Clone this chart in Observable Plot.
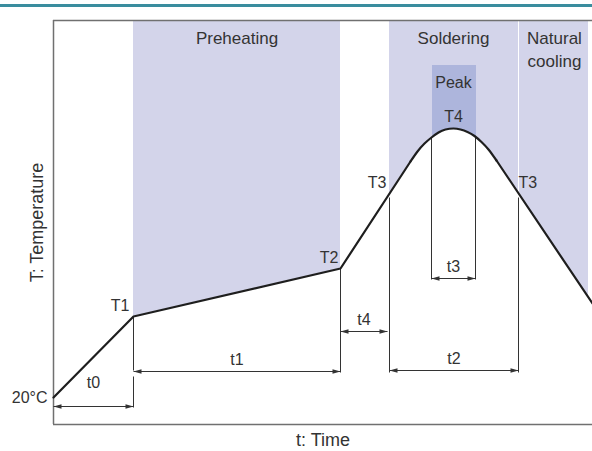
<!DOCTYPE html>
<html>
<head>
<meta charset="utf-8">
<script src="https://cdn.jsdelivr.net/npm/d3@7"></script>
<script src="https://cdn.jsdelivr.net/npm/@observablehq/plot@0.6"></script>
<style>
  html, body { margin: 0; padding: 0; background: #fff; }
  #wrap { position: relative; width: 592px; height: 451px; overflow: hidden; }
  #bar { position: absolute; left: 0; top: 4px; width: 592px; height: 3px; background: #3a8d9e; }
  #chart { position: absolute; left: 0; top: 0; }
</style>
</head>
<body>
<div id="wrap"><div id="chart"></div><div id="bar"></div></div>
<script>
// Time (arbitrary units) and temperature (arbitrary units)
const rampPoints = [
  {t: 0, T: 27},     // 20°C
  {t: 80, T: 108},   // T1
  {t: 287, T: 156},  // T2
  {t: 357, T: 263}
];
const arcPoints = [
  {t: 357, T: 263}, {t: 364, T: 273}, {t: 371, T: 281}, {t: 378, T: 287},
  {t: 385, T: 292}, {t: 392, T: 295}, {t: 400, T: 296}, {t: 407, T: 295},
  {t: 414, T: 292.5}, {t: 421, T: 288.5}, {t: 428, T: 282.5}, {t: 435, T: 275},
  {t: 443, T: 264}
];
const coolPoints = [
  {t: 443, T: 264}, {t: 539, T: 121}
];

// Shaded zones (above the profile)
const preheatZone = [{t: 80, T: 108}, {t: 287, T: 156}];
const solderZone = [
  {t: 336, T: 231}, {t: 347, T: 248}, {t: 357, T: 263}, {t: 364, T: 273},
  {t: 371, T: 281}, {t: 378, T: 287}, {t: 385, T: 292}, {t: 392, T: 295},
  {t: 400, T: 296}, {t: 407, T: 295}, {t: 414, T: 292.5}, {t: 421, T: 288.5},
  {t: 428, T: 282.5}, {t: 435, T: 275}, {t: 443, T: 264}, {t: 454, T: 248},
  {t: 465, T: 231}
];
const peakZone = [
  {t: 379, T: 288}, {t: 385, T: 292}, {t: 392, T: 295}, {t: 400, T: 296},
  {t: 407, T: 295}, {t: 414, T: 292.5}, {t: 423, T: 287}
];
const coolZone = [{t: 466, T: 230}, {t: 535, T: 127}];
const zoneTop = 404;
const peakTop = 359;

// Dimension arrows
const dims = [
  {label: "t0", t1: 0, t2: 80, T: 18},
  {label: "t1", t1: 80, t2: 287, T: 53},
  {label: "t4", t1: 287, t2: 334, T: 93},
  {label: "t2", t1: 336, t2: 465, T: 54},
  {label: "t3", t1: 378, t2: 422, T: 146}
];
// Extension lines
const guides = [
  {t: 80, T1: 108, T2: 54}, {t: 80, T1: 48, T2: 17},
  {t: 287, T1: 156, T2: 52},
  {t: 336, T1: 227, T2: 52},
  {t: 465, T1: 227, T2: 52},
  {t: 378, T1: 287, T2: 145},
  {t: 422, T1: 288, T2: 145}
];
// Point labels
const pointLabelsEnd = [
  {label: "T1", t: 76, T: 119},
  {label: "T2", t: 285, T: 167},
  {label: "T3", t: 333, T: 242}
];
const pointLabelsStart = [
  {label: "T3", t: 465, T: 242}
];
const peakLabels = [
  {label: "Peak", t: 400, T: 342},
  {label: "T4", t: 400, T: 308}
];
const zoneTitles = [
  {label: "Preheating", t: 183.5, T: 388},
  {label: "Soldering", t: 400, T: 388},
  {label: "Natural\ncooling", t: 501, T: 376.5}
];

const arrowRight = {draw(ctx) { ctx.moveTo(0, 0); ctx.lineTo(-8, -2.3); ctx.lineTo(-8, 2.3); ctx.closePath(); }};
const arrowLeft = {draw(ctx) { ctx.moveTo(0, 0); ctx.lineTo(8, -2.3); ctx.lineTo(8, 2.3); ctx.closePath(); }};

const font = "'Liberation Sans', Arial, Helvetica, sans-serif";
const ink = "#333";
const zoneFill = "#d3d4ea";
const peakFill = "#adb5dc";

const chart = Plot.plot({
  width: 592,
  height: 451,
  marginLeft: 53,
  marginRight: 0,
  marginTop: 20,
  marginBottom: 27,
  x: {domain: [0, 539], axis: null},
  y: {domain: [0, 404], axis: null},
  style: {fontFamily: font, background: "#fff", overflow: "visible"},
  marks: [
    Plot.areaY(preheatZone, {x: "t", y1: "T", y2: zoneTop, fill: zoneFill}),
    Plot.areaY(solderZone, {x: "t", y1: "T", y2: zoneTop, fill: zoneFill, curve: "natural"}),
    Plot.areaY(coolZone, {x: "t", y1: "T", y2: zoneTop, fill: zoneFill}),
    Plot.areaY(peakZone, {x: "t", y1: "T", y2: peakTop, fill: peakFill, curve: "natural"}),
    // frame
    Plot.ruleX([0], {stroke: "#707070", strokeWidth: 1.5}),
    Plot.ruleY([0, 404], {stroke: "#707070", strokeWidth: 1.5}),
    // guides
    Plot.link(guides, {x1: "t", x2: "t", y1: "T1", y2: "T2", stroke: ink, strokeWidth: 1}),
    // dimension lines
    Plot.link(dims, {x1: "t1", x2: "t2", y1: "T", y2: "T", stroke: ink, strokeWidth: 1}),
    Plot.dot(dims, {x: "t1", y: "T", symbol: arrowLeft, fill: ink, stroke: null}),
    Plot.dot(dims, {x: "t2", y: "T", symbol: arrowRight, fill: ink, stroke: null}),
    Plot.text(dims.filter(d => d.label !== "t0"), {
      x: d => (d.t1 + d.t2) / 2, y: "T", text: "label", dy: -12,
      fontSize: 16, fill: ink, fontWeight: d => d.label === "t4" ? "bold" : "normal"
    }),
    Plot.text(dims.filter(d => d.label === "t0"), {
      x: d => (d.t1 + d.t2) / 2, y: "T", text: "label", dy: -24, fontSize: 16, fill: ink
    }),
    // profile
    Plot.line(rampPoints, {x: "t", y: "T", stroke: "#1e1e1e", strokeWidth: 2.2, strokeLinejoin: "round"}),
    Plot.line(arcPoints, {x: "t", y: "T", stroke: "#1e1e1e", strokeWidth: 2.2, curve: "natural"}),
    Plot.line(coolPoints, {x: "t", y: "T", stroke: "#1e1e1e", strokeWidth: 2.2}),
    // labels
    Plot.text(pointLabelsEnd, {x: "t", y: "T", text: "label", textAnchor: "end", fontSize: 16, fill: ink}),
    Plot.text(pointLabelsStart, {x: "t", y: "T", text: "label", textAnchor: "start", fontSize: 16, fill: ink}),
    Plot.text(peakLabels, {x: "t", y: "T", text: "label", fontSize: 16, fill: ink}),
    Plot.text(zoneTitles, {x: "t", y: "T", text: "label", fontSize: 17, lineHeight: 1.35, fill: ink}),
    Plot.text(["20°C"], {x: -6, y: 27, text: d => d, textAnchor: "end", fontSize: 16, fill: ink}),
    Plot.text(["t: Time"], {x: 269.5, y: -16, text: d => d, fontSize: 18, fill: ink}),
    Plot.text(["T: Temperature"], {x: -16, y: 202, text: d => d, rotate: -90, fontSize: 18, fill: ink})
  ]
});
document.getElementById("chart").appendChild(chart);
</script>
</body>
</html>
